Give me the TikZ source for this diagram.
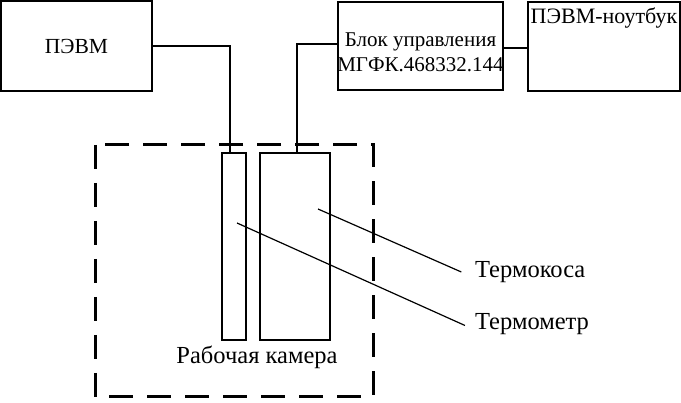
\documentclass[tikz,border=0pt]{standalone}
\usepackage{fontspec}
\setmainfont{Liberation Serif}
\usetikzlibrary{positioning}

\tikzset{
  blokbox/.style={draw, line width=1.3pt, minimum width=#1, inner sep=0pt},
  pribor/.style={draw, line width=1.3pt, minimum height=187pt, inner sep=0pt},
  wire/.style={line width=1.3pt},
  leader/.style={line width=1.2pt, shorten >=15pt},
  labtext/.style={inner sep=0pt, font=\fontsize{24.5}{26}\selectfont},
}

\begin{document}
\begin{tikzpicture}[x=1pt, y=-1pt]
\useasboundingbox (0,0) rectangle (681,403);

%% top row
\node[blokbox=151pt, minimum height=90pt, font=\fontsize{21.5}{24}\selectfont] (pevm) at (76.5,46) {ПЭВМ};
\node[blokbox=165pt, minimum height=88pt] (blok) at (420.5,46) {};
\node[align=center, inner sep=0pt, font=\fontsize{21}{25}\selectfont] (bloktext) at (420.5,52) {Блок управления\\МГФК.468332.144};
\node[blokbox=152pt, minimum height=89pt] (noutbuk) at (604,46.5) {};
\node[anchor=north, font=\fontsize{22}{24}\selectfont, inner sep=0pt] (noutbuktext) at ([yshift=-6pt]noutbuk.north) {ПЭВМ-ноутбук};

%% chamber
\draw[line width=3pt, dash pattern=on 24pt off 14pt] (95,145) rectangle (373,397);
\node[draw, line width=1.3pt, minimum width=24pt, pribor] (termometr) at (234,246.5) {};
\node[draw, line width=1.3pt, minimum width=70pt, pribor] (termokosa) at (295,246.5) {};
\node[labtext] (kamera) at (257,357) {Рабочая камера};

%% wires
\draw[wire] (pevm.east) -| ([xshift=-4pt]termometr.north);
\draw[wire] ([yshift=2pt]blok.west) -| ([xshift=2pt]termokosa.north);
\draw[wire] ([yshift=-2pt]blok.east) -- ([yshift=-1.5pt]noutbuk.west);

%% labels
\coordinate (ikosa) at (318,209);
\coordinate (imetr) at (237,223);
\node[labtext, anchor=base west] (lkosa) at (475,278) {Термокоса};
\node[labtext, anchor=base west] (lmetr) at (475,330) {Термометр};
\draw[leader] (ikosa) -- (lkosa.base west);
\draw[leader, shorten >=11pt] (imetr) -- (lmetr.base west);

\end{tikzpicture}
\end{document}
